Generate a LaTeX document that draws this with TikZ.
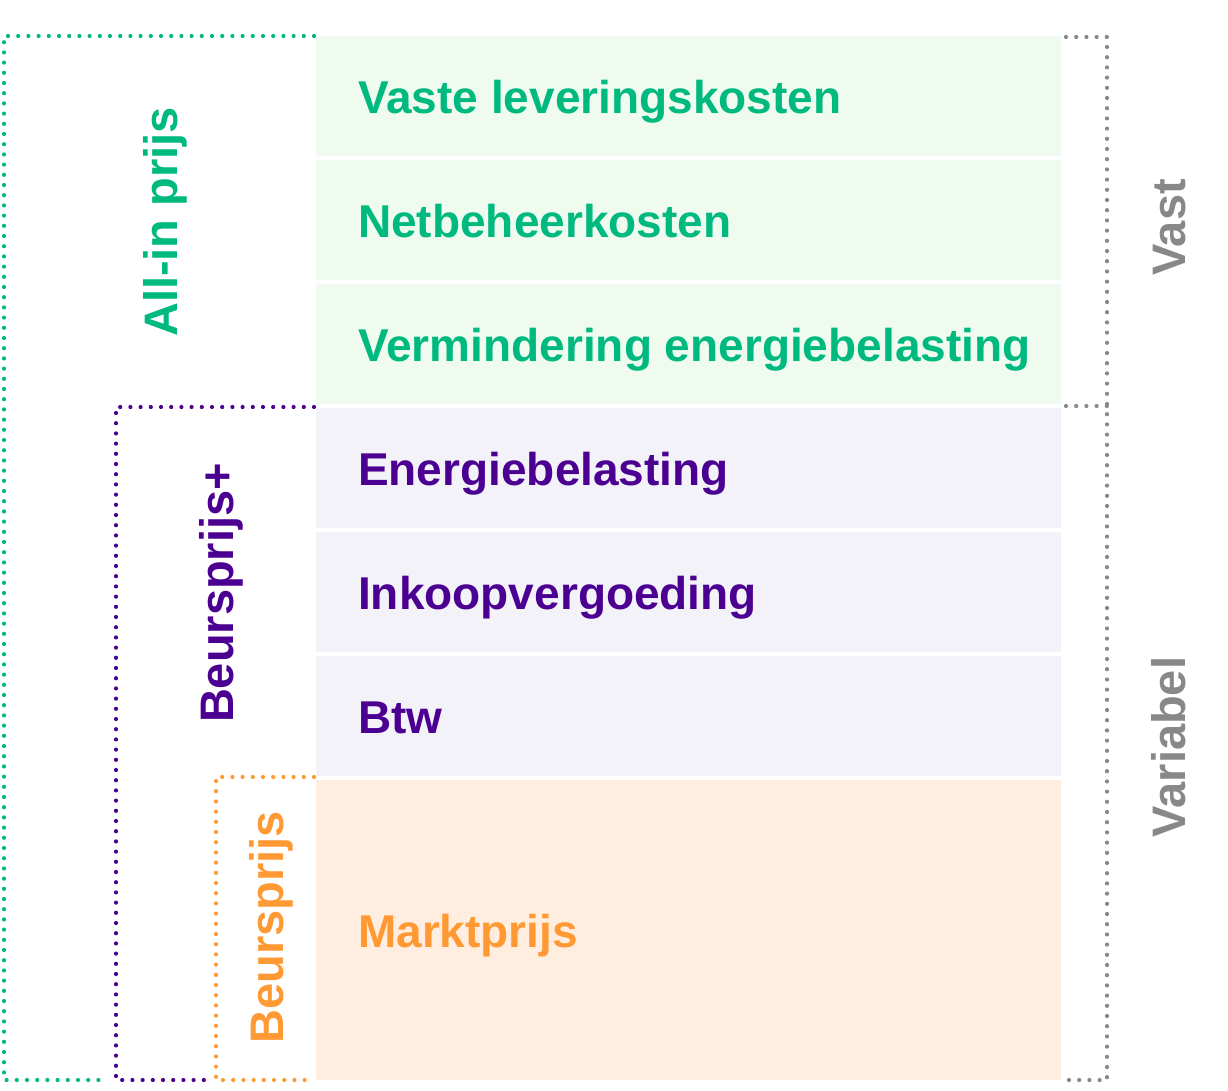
\documentclass[tikz,border=0pt]{standalone}
\usepackage{fontspec}
\setmainfont{Liberation Sans}
\definecolor{cgreen}{RGB}{0,185,127}
\definecolor{fgreen}{RGB}{240,251,240}
\definecolor{cpurple}{RGB}{75,0,145}
\definecolor{fpurple}{RGB}{244,242,249}
\definecolor{corange}{RGB}{255,153,51}
\definecolor{forange}{RGB}{255,238,223}
\definecolor{cgray}{RGB}{136,136,136}
\tikzset{
  rowbox/.style={draw=none, rectangle, inner sep=0pt, minimum width=745pt, anchor=north west},
  rowlabel/.style={anchor=base west, inner sep=0pt, font=\fontsize{46}{50}\selectfont\bfseries},
  sidelabel/.style={anchor=base, inner sep=0pt, rotate=90, font=\fontsize{47}{50}\selectfont\bfseries},
  dotline/.style={line width=4.2pt, line cap=round, dash pattern=on 0pt off 10.2pt},
}
\begin{document}
\begin{tikzpicture}[x=1pt,y=-1pt]
\useasboundingbox (0,0) rectangle (1228,1090);
% rows
\node[rowbox, fill=fgreen, minimum height=120pt] (r1) at (316,36) {};
\node[rowbox, fill=fgreen, minimum height=120pt] (r2) at (316,160) {};
\node[rowbox, fill=fgreen, minimum height=120pt] (r3) at (316,284) {};
\node[rowbox, fill=fpurple, minimum height=120pt] (r4) at (316,408) {};
\node[rowbox, fill=fpurple, minimum height=120pt] (r5) at (316,532) {};
\node[rowbox, fill=fpurple, minimum height=120pt] (r6) at (316,656) {};
\node[rowbox, fill=forange, minimum height=300pt] (r7) at (316,780) {};
% row labels
\node[rowlabel, text=cgreen] (t1) at (358,113) {Vaste leveringskosten};
\node[rowlabel, text=cgreen] (t2) at (358,237) {Netbeheerkosten};
\node[rowlabel, text=cgreen] (t3) at (358,361) {Vermindering energiebelasting};
\node[rowlabel, text=cpurple] (t4) at (358,485) {Energiebelasting};
\node[rowlabel, text=cpurple] (t5) at (358,609) {Inkoopvergoeding};
\node[rowlabel, text=cpurple] (t6) at (358,733) {Btw};
\node[rowlabel, text=corange] (t7) at (358,947) {Marktprijs};
% side labels
\node[sidelabel, text=cgreen] (s1) at (177,222) {All-in prijs};
\node[sidelabel, text=cpurple] (s2) at (233,593) {Beursprijs+};
\node[sidelabel, text=corange] (s3) at (283,927.5) {Beursprijs};
\node[sidelabel, text=cgray] (s4) at (1185,227.5) {Vast};
\node[sidelabel, text=cgray] (s5) at (1185,747) {Variabel};
% brackets
\coordinate (g1) at (314,36);
\coordinate (g2) at (4,36);
\coordinate (g3) at (4,1080);
\coordinate (g4) at (106,1080);
\draw[dotline, cgreen] (g1) -- (g2) -- (g3) -- (g4);
\coordinate (p1) at (314,407);
\coordinate (p2) at (116,407);
\coordinate (p3) at (116,1080);
\coordinate (p4) at (206,1080);
\draw[dotline, cpurple] (p1) -- (p2) -- (p3) -- (p4);
\coordinate (o1) at (314,777);
\coordinate (o2) at (216,777);
\coordinate (o3) at (216,1080);
\coordinate (o4) at (312,1080);
\draw[dotline, corange] (o1) -- (o2) -- (o3) -- (o4);
\coordinate (v1) at (1066,37);
\coordinate (v2) at (1107,37);
\coordinate (v3) at (1107,1080);
\coordinate (v4) at (1066,1080);
\coordinate (v5) at (1066,406);
\coordinate (v6) at (1107,406);
\draw[dotline, cgray] (v1) -- (v2) -- (v3) -- (v4);
\draw[dotline, cgray] (v5) -- (v6);
\end{tikzpicture}
\end{document}
